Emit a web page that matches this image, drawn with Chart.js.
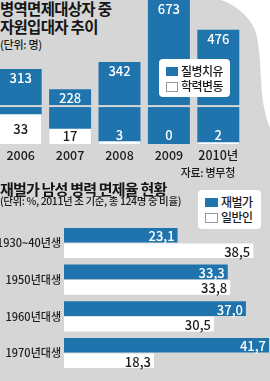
<!DOCTYPE html>
<html><head><meta charset="utf-8">
<script src="https://cdn.jsdelivr.net/npm/chart.js@4"></script>
<style>
html,body{margin:0;padding:0;}
body{width:270px;height:381px;overflow:hidden;background:#d6d6d6;position:relative;font-family:"Noto Sans CJK KR",sans-serif;color:#222;}
.t{position:absolute;white-space:nowrap;}
.title{font-weight:bold;font-size:15.5px;line-height:17px;letter-spacing:-0.7px;color:#151515;}
.small{font-size:11px;line-height:12px;letter-spacing:-0.3px;color:#1c1c1c;font-weight:500;}
.leg{position:absolute;background:#fff;border-radius:4px;}
.li{position:absolute;font-size:12px;line-height:14px;letter-spacing:-0.5px;color:#1c1c1c;white-space:nowrap;font-weight:500;}
.sw{position:absolute;width:12px;height:9px;}
canvas{position:absolute;}
</style></head>
<body>
<svg style="position:absolute;left:0;top:0" width="270" height="381">
<path d="M221 0 C238 6 250 18 255 30 C259 42 260 60 261 80 C262 100 264 112 270 128 L270 0 Z" fill="#ffffff"/>
</svg>
<div class="t title" style="left:0;top:0;">병역면제대상자 중</div>
<div class="t title" style="left:0;top:18px;">자원입대자 추이</div>
<div class="t small" style="left:0;top:37.5px;">(단위: 명)</div>
<canvas id="c1" width="247" height="165" style="left:-4px;top:0;"></canvas>
<div class="leg" style="left:159px;top:59px;width:71px;height:38px;"></div>
<div class="sw" style="left:166px;top:67px;background:#1f74ae;"></div>
<div class="li" style="left:181px;top:64px;">질병치유</div>
<div class="sw" style="left:166px;top:82px;width:10px;height:8px;background:#fff;border:1px solid #999;"></div>
<div class="li" style="left:181px;top:79px;">학력변동</div>
<div class="t small" style="right:35px;top:166px;">자료: 병무청</div>
<div class="t title" style="left:0;top:180px;font-size:15px;letter-spacing:-0.8px;">재벌가 남성 병력 면제율 현황</div>
<div class="t small" style="left:0;top:194.5px;font-size:10.5px;letter-spacing:-0.4px;">(단위: %, 2011년 초 기준, 총 124명 중 비율)</div>
<canvas id="c2" width="270" height="166" style="left:0;top:215px;"></canvas>
<div class="leg" style="left:198px;top:190px;width:63px;height:39px;"></div>
<div class="sw" style="left:205px;top:198px;width:13px;background:#1f74ae;"></div>
<div class="li" style="left:221px;top:195px;">재벌가</div>
<div class="sw" style="left:205px;top:213px;width:11px;height:8px;background:#fff;border:1px solid #999;"></div>
<div class="li" style="left:221px;top:210px;">일반인</div>
<script>
// ---- data ----
const years = ['2006', '2007', '2008', '2009', '2010년'];
const diseaseCured = [313, 228, 342, 673, 476];   // 질병치유
const eduChange = [33, 17, 3, 0, 2];               // 학력변동
const cohorts = ['1930~40년생', '1950년대생', '1960년대생', '1970년대생'];
const chaebol = [23.1, 33.3, 37.0, 41.7];          // 재벌가
const general = [38.5, 33.8, 30.5, 18.3];          // 일반인

const BLUE = '#1f74ae';
const BG = '#d6d6d6';
const NUMFONT = '"Liberation Sans Narrow","Noto Sans CJK KR",sans-serif';
const BREAK_VALUE = 158;

const topLabels = {
  id: 'topLabels',
  afterDatasetsDraw(chart) {
    const ctx = chart.ctx, ca = chart.chartArea;
    const py = chart.scales.y.getPixelForValue(BREAK_VALUE);
    ctx.save();
    ctx.fillStyle = BG;
    ctx.fillRect(ca.left, py - 1, ca.right - ca.left, 2);
    ctx.font = '500 13px ' + NUMFONT;
    ctx.textAlign = 'center';
    ctx.textBaseline = 'middle';
    const m0 = chart.getDatasetMeta(0), m1 = chart.getDatasetMeta(1);
    m0.data.forEach((el, i) => {
      const top = Math.max(el.y, ca.top);
      ctx.fillStyle = '#fff';
      ctx.fillText(String(diseaseCured[i]), el.x, top + 9);
      const w = m1.data[i];
      const h = w.base - w.y;
      if (h > 10) {
        ctx.fillStyle = '#1c1c1c';
        ctx.fillText(String(eduChange[i]), w.x, (w.y + w.base) / 2);
      } else {
        ctx.fillStyle = '#fff';
        ctx.fillText(String(eduChange[i]), w.x, w.base - 9);
      }
    });
    ctx.restore();
  }
};

new Chart(document.getElementById('c1'), {
  type: 'bar',
  data: {
    labels: years,
    datasets: [
      {label: '질병치유', data: diseaseCured, backgroundColor: BLUE, yAxisID: 'y', grouped: false, order: 2, categoryPercentage: 1, barPercentage: 0.85},
      {label: '학력변동', data: eduChange, backgroundColor: '#fff', yAxisID: 'y2', grouped: false, order: 1, categoryPercentage: 1, barPercentage: 0.85}
    ]
  },
  options: {
    responsive: false, animation: false, devicePixelRatio: 1,
    layout: {padding: 0},
    plugins: {legend: {display: false}, tooltip: {enabled: false}},
    scales: {
      x: {grid: {display: false, drawTicks: false}, border: {display: false},
          ticks: {color: '#1c1c1c', padding: 4, font: {family: NUMFONT, size: 12.5, weight: '500'}},
          afterFit(s) { s.height = 21; }},
      y: {display: false, min: 0, max: 600},
      y2: {display: false, min: 0, max: 160}
    }
  },
  plugins: [topLabels]
});

const botLabels = {
  id: 'botLabels',
  afterDatasetsDraw(chart) {
    const ctx = chart.ctx;
    ctx.save();
    ctx.font = '500 13px ' + NUMFONT;
    ctx.textAlign = 'right';
    ctx.textBaseline = 'middle';
    [chaebol, general].forEach((arr, d) => {
      chart.getDatasetMeta(d).data.forEach((el, i) => {
        ctx.fillStyle = d === 0 ? '#fff' : '#1c1c1c';
        ctx.fillText(arr[i].toFixed(1).replace('.', ','), el.x - 3, el.y + 1);
      });
    });
    ctx.restore();
  }
};

new Chart(document.getElementById('c2'), {
  type: 'bar',
  data: {
    labels: cohorts,
    datasets: [
      {label: '재벌가', data: chaebol, backgroundColor: BLUE, categoryPercentage: 0.845, barPercentage: 0.94},
      {label: '일반인', data: general, backgroundColor: '#fff', categoryPercentage: 0.845, barPercentage: 0.94}
    ]
  },
  options: {
    indexAxis: 'y',
    responsive: false, animation: false, devicePixelRatio: 1,
    layout: {padding: {top: 5, left: 0, right: 0, bottom: 0}},
    plugins: {legend: {display: false}, tooltip: {enabled: false}},
    scales: {
      x: {display: false, min: 0, max: 41.9},
      y: {grid: {display: false, drawTicks: false}, border: {display: false},
          ticks: {color: '#1c1c1c', padding: 3, font: {family: NUMFONT, size: 11, weight: '500'}},
          afterFit(s) { s.width = 64; }}
    }
  },
  plugins: [botLabels]
});
</script>
</body></html>
